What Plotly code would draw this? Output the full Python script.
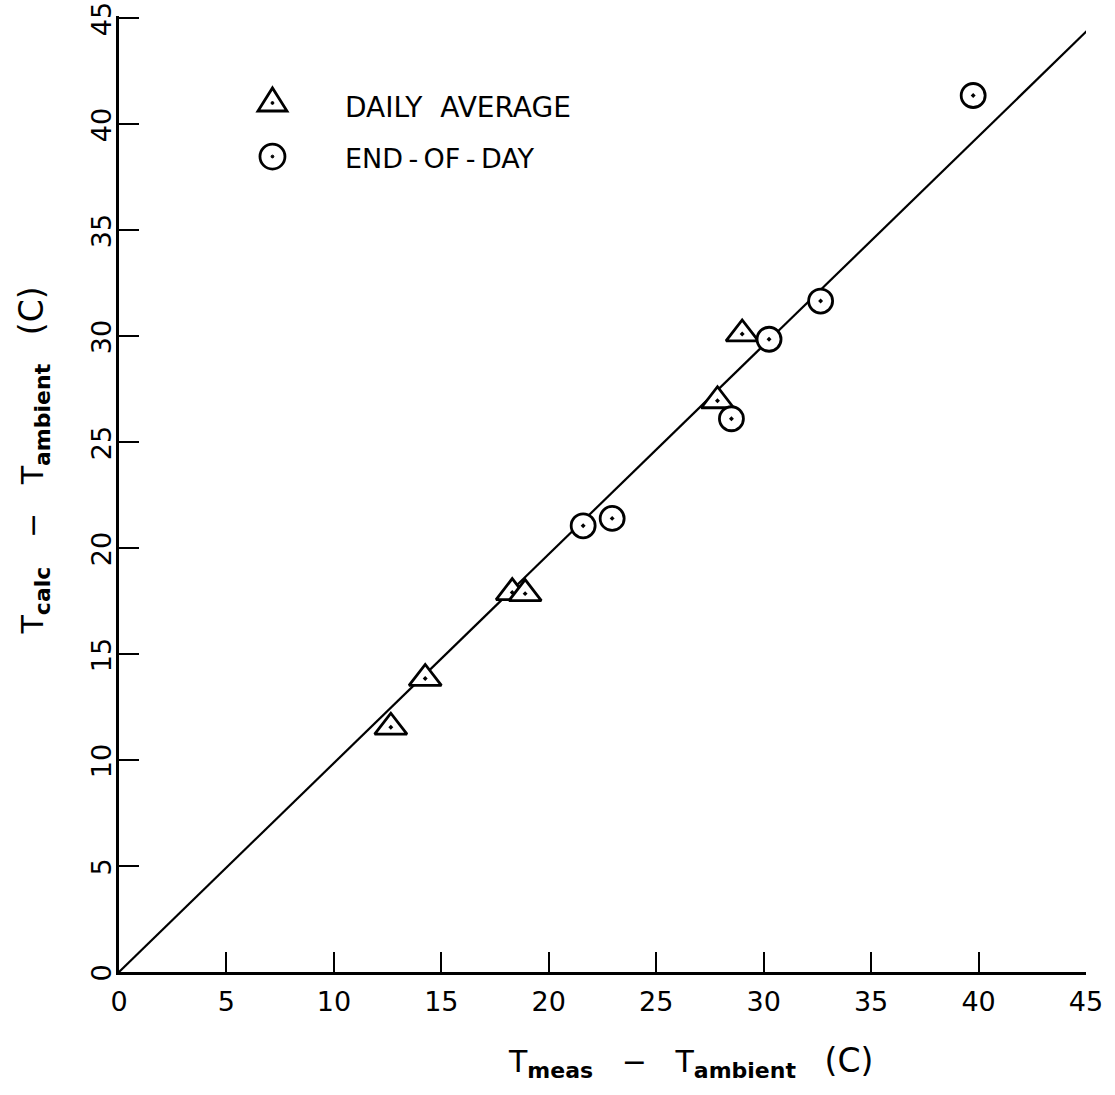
import plotly.graph_objects as go

# Daily-average comparison points (triangles)
daily_meas = [12.65, 14.25, 18.3, 18.9, 27.85, 29.0]
daily_calc = [11.55, 13.85, 17.9, 17.85, 26.95, 30.1]

# End-of-day comparison points (circles)
eod_meas = [21.6, 22.95, 28.5, 30.25, 32.65, 39.75]
eod_calc = [21.05, 21.4, 26.1, 29.85, 31.65, 41.35]

# Reference line through the origin
line_meas = [0.0, 45.25]
line_calc = [0.0, 44.6]

tick_vals = [0, 5, 10, 15, 20, 25, 30, 35, 40, 45]
tick_text = [str(v) for v in tick_vals]

legend_labels = ["DAILY&nbsp;&nbsp;AVERAGE", "END\u2009-\u2009OF\u2009-\u2009DAY"]

FONT = "DejaVu Sans"
INK = "black"

fig = go.Figure()

fig.add_trace(go.Scatter(
    x=line_meas, y=line_calc, mode="lines",
    line=dict(color=INK, width=2.2), hoverinfo="skip", showlegend=False,
))

fig.add_trace(go.Scatter(
    x=daily_meas, y=daily_calc, mode="markers", name="DAILY AVERAGE",
    marker=dict(symbol="triangle-up-dot", size=28, color="white",
                line=dict(color=INK, width=2.8)),
    showlegend=False,
))

fig.add_trace(go.Scatter(
    x=eod_meas, y=eod_calc, mode="markers", name="END-OF-DAY",
    marker=dict(symbol="circle-dot", size=24, color="white",
                line=dict(color=INK, width=2.8)),
    showlegend=False,
))

axis_common = dict(
    tickmode="array", tickvals=tick_vals, ticktext=tick_text,
    ticks="inside", ticklen=20, tickwidth=2.4, tickcolor=INK,
    showline=True, linewidth=3, linecolor=INK, mirror=False,
    showgrid=False, zeroline=False, ticklabeloverflow="allow",
    automargin=False,
    tickfont=dict(family=FONT, size=27, color=INK),
)

fig.update_xaxes(**axis_common, range=[0, 45.0], ticklabelstandoff=4)
fig.update_yaxes(**axis_common, range=[0, 45.1], tickangle=-90,
                 ticklabelstandoff=-6, ticklabelshift=5)

# Legend keys drawn in pixel units next to their labels
key_x = 0.1587
tri_y = 0.909
circ_y = 0.853
shapes = [
    dict(type="path", xref="paper", yref="paper", xsizemode="pixel", ysizemode="pixel",
         xanchor=key_x, yanchor=tri_y, path="M-14.5,-8 H14.5 L0,15 Z",
         line=dict(color=INK, width=2.8), fillcolor="white"),
    dict(type="circle", xref="paper", yref="paper", xsizemode="pixel", ysizemode="pixel",
         xanchor=key_x, yanchor=tri_y, x0=-1.4, x1=1.4, y0=-1.4, y1=1.4,
         line=dict(color=INK, width=1), fillcolor=INK),
    dict(type="circle", xref="paper", yref="paper", xsizemode="pixel", ysizemode="pixel",
         xanchor=key_x, yanchor=circ_y, x0=-12.5, x1=12.5, y0=-12.5, y1=12.5,
         line=dict(color=INK, width=2.8), fillcolor="white"),
    dict(type="circle", xref="paper", yref="paper", xsizemode="pixel", ysizemode="pixel",
         xanchor=key_x, yanchor=circ_y, x0=-1.4, x1=1.4, y0=-1.4, y1=1.4,
         line=dict(color=INK, width=1), fillcolor=INK),
]

SUB = "<sub><span style='font-size:22px'><b>{}</b></span></sub>"
GAP = "&nbsp;&nbsp;&nbsp;"
x_title = ("T" + SUB.format("meas") + GAP + "−" + GAP + "T" + SUB.format("ambient")
           + GAP + "<span style='font-size:33px'>(C)</span>")
y_title = ("T" + SUB.format("calc") + GAP + "−" + GAP + "T" + SUB.format("ambient")
           + GAP + "<span style='font-size:33px'>(C)</span>")

annotations = [
    dict(text=legend_labels[0], x=0.2316, y=0.9047, xref="paper", yref="paper",
         xanchor="left", yanchor="middle", showarrow=False,
         font=dict(family=FONT, size=28, color=INK)),
    dict(text=legend_labels[1], x=0.2316, y=0.851, xref="paper", yref="paper",
         xanchor="left", yanchor="middle", showarrow=False,
         font=dict(family=FONT, size=27, color=INK)),
    dict(text=x_title, x=0.5915, y=-0.094, xref="paper", yref="paper",
         xanchor="center", yanchor="middle", showarrow=False,
         font=dict(family=FONT, size=30, color=INK)),
    dict(text=y_title, x=-0.089, y=0.535, xref="paper", yref="paper", textangle=-90,
         xanchor="center", yanchor="middle", showarrow=False,
         font=dict(family=FONT, size=30, color=INK)),
]

fig.update_layout(
    width=1115, height=1095,
    margin=dict(l=119, r=29, t=16, b=123, autoexpand=False),
    paper_bgcolor="white", plot_bgcolor="white",
    shapes=shapes, annotations=annotations,
    font=dict(family=FONT, color=INK),
)

fig.write_html("out.html")
